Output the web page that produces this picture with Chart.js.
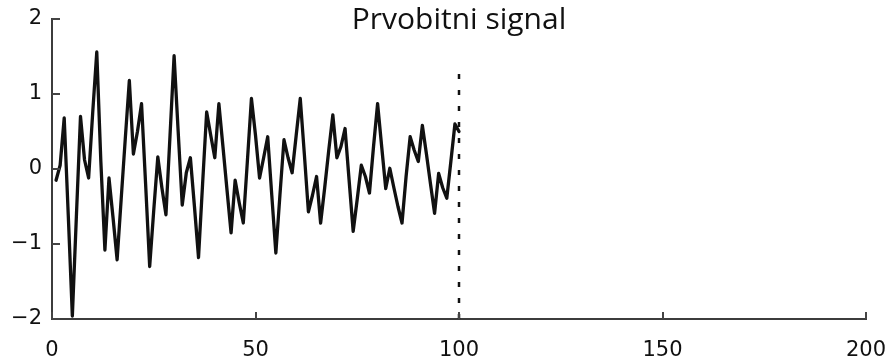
<!DOCTYPE html>
<html>
<head>
<meta charset="utf-8">
<script src="https://cdn.jsdelivr.net/npm/chart.js@4/dist/chart.umd.min.js"></script>
<style>
  html, body { margin: 0; padding: 0; background: #fff; }
  #wrap { width: 888px; height: 363px; position: relative; }
</style>
</head>
<body>
<div id="wrap"><canvas id="c"></canvas></div>
<script>
// Original signal samples, n = 1..100
const sampleValues = [
  -0.15, 0.05, 0.68, -0.62, -1.96, -0.62, 0.70, 0.12, -0.12, 0.75,
   1.56, 0.10, -1.08, -0.12, -0.65, -1.21, -0.40, 0.40, 1.18, 0.20,
   0.50, 0.87, -0.20, -1.30, -0.55, 0.16, -0.25, -0.61, 0.45, 1.51,
   0.50, -0.48, -0.05, 0.15, -0.50, -1.18, -0.20, 0.76, 0.45, 0.15,
   0.87, 0.30, -0.28, -0.85, -0.15, -0.45, -0.72, 0.10, 0.94, 0.45,
  -0.12, 0.15, 0.43, -0.35, -1.12, -0.35, 0.39, 0.15, -0.05, 0.45,
   0.94, 0.20, -0.57, -0.35, -0.10, -0.72, -0.25, 0.25, 0.72, 0.15,
   0.30, 0.54, -0.15, -0.83, -0.40, 0.05, -0.10, -0.32, 0.30, 0.87,
   0.30, -0.26, 0.01, -0.25, -0.50, -0.72, -0.10, 0.43, 0.25, 0.10,
   0.58, 0.20, -0.20, -0.59, -0.06, -0.25, -0.39, 0.10, 0.60, 0.50
];
const sampleIndex = sampleValues.map((_, i) => i + 1);

// Vertical marker at the end of the observed signal
const markerX = 100;
const markerY = [-2, 1.3];

// Axis ticks
const xTicks = [0, 50, 100, 150, 200];
const yTicks = [-2, -1, 0, 1, 2];

const titleText = 'Prvobitni signal';

const signalPoints = sampleIndex.map((n, i) => ({ x: n, y: sampleValues[i] }));
const markerPoints = markerY.map(v => ({ x: markerX, y: v }));

// Inward tick marks plus the title inside the plot
const decorPlugin = {
  id: 'decor',
  afterDatasetsDraw(chart) {
    const { ctx, chartArea, scales } = chart;
    ctx.save();
    ctx.strokeStyle = '#444';
    ctx.lineWidth = 2;
    ctx.beginPath();
    yTicks.forEach(v => {
      const y = Math.round(scales.y.getPixelForValue(v));
      ctx.moveTo(chartArea.left, y);
      ctx.lineTo(chartArea.left + 8, y);
    });
    xTicks.forEach(v => {
      const x = Math.round(scales.x.getPixelForValue(v));
      ctx.moveTo(x, chartArea.bottom);
      ctx.lineTo(x, chartArea.bottom - 7);
    });
    ctx.stroke();

    ctx.fillStyle = '#111';
    ctx.font = '30px "Open Sans"';
    ctx.textAlign = 'center';
    ctx.textBaseline = 'alphabetic';
    ctx.fillText(titleText, (chartArea.left + chartArea.right) / 2, chartArea.top + 10);
    ctx.restore();
  }
};

const tickFont = { family: 'DejaVu Sans', size: 21 };
const fmt = v => String(v).replace('-', '\u2212');

new Chart(document.getElementById('c'), {
  type: 'line',
  data: {
    datasets: [
      {
        data: signalPoints,
        borderColor: '#111',
        borderWidth: 3.3,
        borderJoinStyle: 'round',
        borderCapStyle: 'round',
        pointRadius: 0,
        tension: 0,
        fill: false
      },
      {
        data: markerPoints,
        borderColor: '#111',
        borderWidth: 2.5,
        borderDash: [5, 11],
        pointRadius: 0,
        fill: false
      }
    ]
  },
  options: {
    responsive: true,
    maintainAspectRatio: false,
    animation: false,
    layout: { padding: { top: 19, right: 22, left: 0, bottom: 0 } },
    plugins: { legend: { display: false }, tooltip: { enabled: false } },
    scales: {
      x: {
        type: 'linear',
        min: 0,
        max: 200,
        afterBuildTicks(scale) { scale.ticks = xTicks.map(v => ({ value: v })); },
        afterFit(scale) {
          scale.height = 44;
          scale.paddingLeft = 0;
          scale.paddingRight = 0;
        },
        grid: { display: false, drawTicks: false },
        border: { display: true, color: '#3c3c3c', width: 2 },
        ticks: {
          padding: 19,
          color: '#111',
          font: tickFont,
          maxRotation: 0,
          callback: fmt
        }
      },
      y: {
        type: 'linear',
        min: -2,
        max: 2,
        afterBuildTicks(scale) { scale.ticks = yTicks.map(v => ({ value: v })); },
        afterFit(scale) {
          scale.width = 52;
          scale.paddingTop = 0;
          scale.paddingBottom = 0;
        },
        grid: { display: false, drawTicks: false },
        border: { display: true, color: '#3c3c3c', width: 2 },
        ticks: {
          padding: 10,
          color: '#111',
          font: tickFont,
          callback: fmt
        }
      }
    }
  },
  plugins: [decorPlugin]
});
</script>
</body>
</html>
